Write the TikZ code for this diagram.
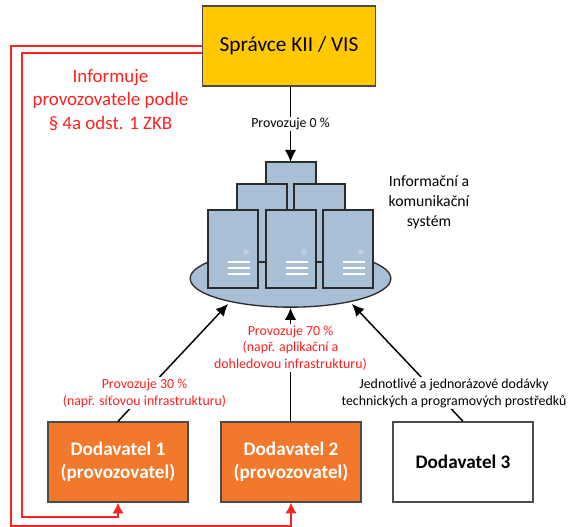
\documentclass[tikz,border=0pt]{standalone}
\usepackage{fontspec}
\setmainfont{Carlito}
\usetikzlibrary{arrows.meta,shapes.geometric}
\definecolor{srv}{HTML}{A9BFD6}
\definecolor{edge}{HTML}{2B2B2B}
\definecolor{yel}{HTML}{FFC800}
\definecolor{org}{HTML}{F2792B}
\definecolor{redl}{HTML}{FF2020}
\tikzset{
 x=0.75pt,y=-0.75pt,
 box/.style={draw=edge!85,line width=1pt,minimum width=105pt,minimum height=60pt,inner sep=0pt,align=center,font=\fontsize{14.4}{17.5}\selectfont\bfseries},
 server/.style={draw=edge,fill=srv,line width=1pt},
 conn/.style={black,line width=1.1pt,-{Latex[length=9pt,width=8.5pt]}},
 redconn/.style={redl,line width=1.1pt,-{Latex[length=8pt,width=8.5pt]}},
 lab/.style={fill=white,inner sep=1pt,align=center,font=\fontsize{10.4}{12.6}\selectfont},
}
\newcommand{\frontsrv}[1]{%
 \draw[server] (#1,210) rectangle ++(50,78);
 \fill[white,opacity=.25] (#1+38,252) circle (3);
 \foreach \yy in {262,268,274}{\draw[white,line width=1pt] (#1+20,\yy) -- ++(22,0);}
}
\begin{document}
\begin{tikzpicture}
\useasboundingbox (0,0) rectangle (574,527);
% boxes
\node[box,fill=yel,minimum width=130pt,font=\fontsize{16}{19}\selectfont] (spravce) at (289,46) {Správce KII / VIS};
\node[box,fill=org,text=white] (d1) at (118,462) {Dodavatel 1\\(provozovatel)};
\node[box,fill=org,text=white] (d2) at (291,462) {Dodavatel 2\\(provozovatel)};
\node[box,fill=white] (d3) at (463,462) {Dodavatel 3};
% system
\node[ellipse,draw=edge,fill=srv,line width=1pt,minimum width=150.5pt,minimum height=43pt,inner sep=0pt] (plate) at (290.5,278.5) {};
\draw[server] (266,162) rectangle (316,262);
\draw[server] (237,184) rectangle (287,262);
\draw[server] (294,184) rectangle (345,262);
\frontsrv{208}\frontsrv{266}\frontsrv{323}
\node[font=\fontsize{11.8}{15}\selectfont,align=center] (sys) at (429,202) {Informační a\\komunikační\\systém};
% arrow ends
\coordinate (t0) at (plate.north |- 0,162);
\coordinate (e1) at (228,304);
\coordinate (e3) at (352,304);
% connectors
\draw[conn] (spravce.south -| t0) -- (t0);
\node[lab] (l0) at (290.5,124) {Provozuje 0 \%};
\draw[conn] (d1.north) -- (e1);
\node[lab,text=redl] (l1) at (144.5,393) {Provozuje 30 \%\\(např. síťovou infrastrukturu)};
\draw[conn] (d2.north -| plate.south) -- (plate.south);
\node[lab,text=redl] (l2) at (290.5,348) {Provozuje 70 \%\\(např. aplikační a\\dohledovou infrastrukturu)};
\draw[conn] (d3.north) -- (e3);
\node[lab] (l3) at (454,393) {Jednotlivé a jednorázové dodávky\\technických a programových prostředků};
% red
\draw[redconn] (spravce.west |- 0,46) -- (11,46) -- (11,526) -- (291,526) -- (d2.south);
\draw[redconn] (spravce.west |- 0,53) -- (22,53) -- (22,517) -- (118,517) -- (d1.south);
\node[text=redl,font=\fontsize{14.2}{17.3}\selectfont,align=center] (info) at (110.5,100) {Informuje\\provozovatele podle\\§ 4a odst. 1 ZKB};
\end{tikzpicture}
\end{document}
